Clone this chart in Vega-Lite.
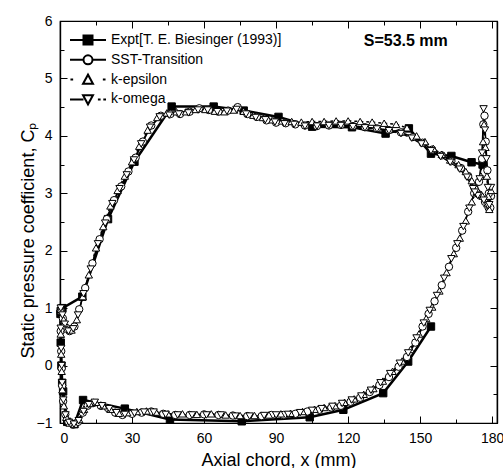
{
  "$schema": "https://vega.github.io/schema/vega-lite/v6.json",
  "width": 437,
  "height": 402,
  "autosize": {"type": "none"},
  "padding": {"left": 60, "top": 21, "right": 6, "bottom": 45},
  "background": "white",
  "config": {
    "font": "Liberation Sans",
    "view": {"stroke": "black", "strokeWidth": 1.2},
    "axis": {
      "grid": false,
      "domainColor": "black",
      "domainWidth": 1.2,
      "tickColor": "black",
      "tickWidth": 1,
      "labelColor": "black",
      "titleColor": "black",
      "labelFont": "Liberation Sans",
      "titleFont": "Liberation Sans",
      "labelFontSize": 14,
      "titleFontSize": 18,
      "titleFontWeight": "normal"
    }
  },
  "data": {"values": [
    {"s":"E","d":"P","x":0.3,"y":0.95},{"s":"E","d":"P","x":1,"y":1.0},{"s":"E","d":"P","x":9.3,"y":1.2},{"s":"E","d":"P","x":20,"y":2.55},{"s":"E","d":"P","x":31,"y":3.55},{"s":"E","d":"P","x":46.5,"y":4.51},{"s":"E","d":"P","x":64,"y":4.51},{"s":"E","d":"P","x":76.5,"y":4.44},{"s":"E","d":"P","x":91,"y":4.33},{"s":"E","d":"P","x":105,"y":4.16},{"s":"E","d":"P","x":121.6,"y":4.15},{"s":"E","d":"P","x":135.6,"y":4.04},{"s":"E","d":"P","x":145.3,"y":4.13},{"s":"E","d":"P","x":154.5,"y":3.69},{"s":"E","d":"P","x":163,"y":3.65},{"s":"E","d":"P","x":171.4,"y":3.54},{"s":"E","d":"P","x":176,"y":3.5},
    {"s":"E","d":"S","x":0.2,"y":0.9},{"s":"E","d":"S","x":0.3,"y":0.4},{"s":"E","d":"S","x":0.6,"y":0.0},{"s":"E","d":"S","x":0.9,"y":-0.3},{"s":"E","d":"S","x":1.3,"y":-0.45},{"s":"E","d":"S","x":3,"y":-0.98},{"s":"E","d":"S","x":6,"y":-1.02},{"s":"E","d":"S","x":9.6,"y":-0.6},{"s":"E","d":"S","x":27,"y":-0.75},{"s":"E","d":"S","x":45.8,"y":-0.94},{"s":"E","d":"S","x":75.7,"y":-0.97},{"s":"E","d":"S","x":104,"y":-0.9},{"s":"E","d":"S","x":118,"y":-0.77},{"s":"E","d":"S","x":134.6,"y":-0.48},{"s":"E","d":"S","x":145,"y":0.07},{"s":"E","d":"S","x":154.5,"y":0.68},

    {"s":"SST","d":"P","x":0.3,"y":0.95},{"s":"SST","d":"P","x":1.2,"y":0.82},{"s":"SST","d":"P","x":2.5,"y":0.66},{"s":"SST","d":"P","x":4,"y":0.6},{"s":"SST","d":"P","x":6,"y":0.68},{"s":"SST","d":"P","x":8,"y":0.98},{"s":"SST","d":"P","x":10.5,"y":1.35},{"s":"SST","d":"P","x":13.5,"y":1.78},{"s":"SST","d":"P","x":16.5,"y":2.2},{"s":"SST","d":"P","x":19.5,"y":2.55},{"s":"SST","d":"P","x":22.5,"y":2.88},{"s":"SST","d":"P","x":25.5,"y":3.12},{"s":"SST","d":"P","x":28.5,"y":3.38},{"s":"SST","d":"P","x":31.5,"y":3.62},{"s":"SST","d":"P","x":34.5,"y":3.9},{"s":"SST","d":"P","x":38,"y":4.18},{"s":"SST","d":"P","x":42,"y":4.35},{"s":"SST","d":"P","x":46,"y":4.38},{"s":"SST","d":"P","x":50,"y":4.38},{"s":"SST","d":"P","x":54,"y":4.42},{"s":"SST","d":"P","x":58,"y":4.48},{"s":"SST","d":"P","x":62,"y":4.45},{"s":"SST","d":"P","x":66,"y":4.42},{"s":"SST","d":"P","x":70,"y":4.44},{"s":"SST","d":"P","x":74,"y":4.5},{"s":"SST","d":"P","x":78,"y":4.38},{"s":"SST","d":"P","x":82,"y":4.33},{"s":"SST","d":"P","x":86,"y":4.27},{"s":"SST","d":"P","x":90,"y":4.23},{"s":"SST","d":"P","x":94,"y":4.22},{"s":"SST","d":"P","x":98,"y":4.2},{"s":"SST","d":"P","x":102,"y":4.18},{"s":"SST","d":"P","x":107,"y":4.17},{"s":"SST","d":"P","x":112,"y":4.18},{"s":"SST","d":"P","x":117,"y":4.19},{"s":"SST","d":"P","x":122,"y":4.17},{"s":"SST","d":"P","x":127,"y":4.15},{"s":"SST","d":"P","x":132,"y":4.13},{"s":"SST","d":"P","x":137,"y":4.1},{"s":"SST","d":"P","x":142,"y":4.06},{"s":"SST","d":"P","x":147,"y":3.98},{"s":"SST","d":"P","x":151,"y":3.88},{"s":"SST","d":"P","x":155,"y":3.76},{"s":"SST","d":"P","x":159,"y":3.66},{"s":"SST","d":"P","x":163,"y":3.56},{"s":"SST","d":"P","x":167,"y":3.44},{"s":"SST","d":"P","x":170,"y":3.3},{"s":"SST","d":"P","x":172.5,"y":3.1},{"s":"SST","d":"P","x":174.5,"y":2.98},{"s":"SST","d":"P","x":177,"y":2.85},{"s":"SST","d":"P","x":178.5,"y":2.75},{"s":"SST","d":"P","x":179.5,"y":2.95},
    {"s":"SST","d":"S","x":0.3,"y":0.6},{"s":"SST","d":"S","x":0.5,"y":0.25},{"s":"SST","d":"S","x":0.7,"y":-0.05},{"s":"SST","d":"S","x":0.9,"y":-0.35},{"s":"SST","d":"S","x":1.3,"y":-0.62},{"s":"SST","d":"S","x":2.2,"y":-0.85},{"s":"SST","d":"S","x":3.5,"y":-0.98},{"s":"SST","d":"S","x":5.5,"y":-1.03},{"s":"SST","d":"S","x":7.5,"y":-0.98},{"s":"SST","d":"S","x":9.5,"y":-0.82},{"s":"SST","d":"S","x":11.5,"y":-0.7},{"s":"SST","d":"S","x":14,"y":-0.65},{"s":"SST","d":"S","x":17,"y":-0.7},{"s":"SST","d":"S","x":20,"y":-0.74},{"s":"SST","d":"S","x":23,"y":-0.82},{"s":"SST","d":"S","x":26,"y":-0.86},{"s":"SST","d":"S","x":30,"y":-0.84},{"s":"SST","d":"S","x":34,"y":-0.82},{"s":"SST","d":"S","x":38,"y":-0.8},{"s":"SST","d":"S","x":43,"y":-0.84},{"s":"SST","d":"S","x":48,"y":-0.86},{"s":"SST","d":"S","x":54,"y":-0.86},{"s":"SST","d":"S","x":60,"y":-0.85},{"s":"SST","d":"S","x":66,"y":-0.86},{"s":"SST","d":"S","x":72,"y":-0.87},{"s":"SST","d":"S","x":78,"y":-0.88},{"s":"SST","d":"S","x":84,"y":-0.88},{"s":"SST","d":"S","x":88,"y":-0.86},{"s":"SST","d":"S","x":93,"y":-0.86},{"s":"SST","d":"S","x":98,"y":-0.84},{"s":"SST","d":"S","x":103,"y":-0.8},{"s":"SST","d":"S","x":108,"y":-0.77},{"s":"SST","d":"S","x":113,"y":-0.73},{"s":"SST","d":"S","x":117,"y":-0.7},{"s":"SST","d":"S","x":121,"y":-0.63},{"s":"SST","d":"S","x":125,"y":-0.56},{"s":"SST","d":"S","x":129,"y":-0.46},{"s":"SST","d":"S","x":133,"y":-0.34},{"s":"SST","d":"S","x":137,"y":-0.2},{"s":"SST","d":"S","x":141,"y":-0.02},{"s":"SST","d":"S","x":144.5,"y":0.15},{"s":"SST","d":"S","x":148,"y":0.4},{"s":"SST","d":"S","x":151,"y":0.68},{"s":"SST","d":"S","x":153.5,"y":0.9},{"s":"SST","d":"S","x":156,"y":1.12},{"s":"SST","d":"S","x":159,"y":1.4},{"s":"SST","d":"S","x":162,"y":1.72},{"s":"SST","d":"S","x":165,"y":2.05},{"s":"SST","d":"S","x":167.5,"y":2.35},{"s":"SST","d":"S","x":170,"y":2.68},{"s":"SST","d":"S","x":172.5,"y":3.0},{"s":"SST","d":"S","x":174.5,"y":3.2},{"s":"SST","d":"S","x":175.8,"y":3.6},{"s":"SST","d":"S","x":176.3,"y":4.2},{"s":"SST","d":"S","x":176.8,"y":4.35},{"s":"SST","d":"S","x":177.3,"y":3.9},{"s":"SST","d":"S","x":178,"y":3.4},{"s":"SST","d":"S","x":178.6,"y":3.0},{"s":"SST","d":"S","x":179.2,"y":2.75},

    {"s":"KE","d":"P","x":0.3,"y":0.98},{"s":"KE","d":"P","x":1.5,"y":0.8},{"s":"KE","d":"P","x":3,"y":0.64},{"s":"KE","d":"P","x":4.8,"y":0.62},{"s":"KE","d":"P","x":7,"y":0.8},{"s":"KE","d":"P","x":9.5,"y":1.2},{"s":"KE","d":"P","x":12,"y":1.58},{"s":"KE","d":"P","x":15,"y":2.05},{"s":"KE","d":"P","x":18,"y":2.42},{"s":"KE","d":"P","x":21,"y":2.78},{"s":"KE","d":"P","x":24,"y":3.05},{"s":"KE","d":"P","x":27,"y":3.3},{"s":"KE","d":"P","x":30,"y":3.55},{"s":"KE","d":"P","x":33,"y":3.82},{"s":"KE","d":"P","x":36.5,"y":4.1},{"s":"KE","d":"P","x":40.5,"y":4.32},{"s":"KE","d":"P","x":44.5,"y":4.4},{"s":"KE","d":"P","x":48.5,"y":4.42},{"s":"KE","d":"P","x":52.5,"y":4.42},{"s":"KE","d":"P","x":56.5,"y":4.46},{"s":"KE","d":"P","x":60.5,"y":4.46},{"s":"KE","d":"P","x":64.5,"y":4.43},{"s":"KE","d":"P","x":68.5,"y":4.42},{"s":"KE","d":"P","x":72.5,"y":4.45},{"s":"KE","d":"P","x":76.5,"y":4.43},{"s":"KE","d":"P","x":80.5,"y":4.36},{"s":"KE","d":"P","x":84.5,"y":4.32},{"s":"KE","d":"P","x":88.5,"y":4.28},{"s":"KE","d":"P","x":92.5,"y":4.26},{"s":"KE","d":"P","x":96.5,"y":4.25},{"s":"KE","d":"P","x":100.5,"y":4.24},{"s":"KE","d":"P","x":105,"y":4.25},{"s":"KE","d":"P","x":110,"y":4.25},{"s":"KE","d":"P","x":115,"y":4.26},{"s":"KE","d":"P","x":120,"y":4.26},{"s":"KE","d":"P","x":125,"y":4.25},{"s":"KE","d":"P","x":130,"y":4.24},{"s":"KE","d":"P","x":135,"y":4.22},{"s":"KE","d":"P","x":140,"y":4.2},{"s":"KE","d":"P","x":144.5,"y":4.14},{"s":"KE","d":"P","x":148.5,"y":4.0},{"s":"KE","d":"P","x":152,"y":3.9},{"s":"KE","d":"P","x":155.5,"y":3.78},{"s":"KE","d":"P","x":159,"y":3.68},{"s":"KE","d":"P","x":162.5,"y":3.58},{"s":"KE","d":"P","x":166,"y":3.5},{"s":"KE","d":"P","x":169,"y":3.38},{"s":"KE","d":"P","x":171.5,"y":3.22},{"s":"KE","d":"P","x":173.5,"y":3.02},{"s":"KE","d":"P","x":176,"y":2.95},{"s":"KE","d":"P","x":178,"y":2.82},{"s":"KE","d":"P","x":179.5,"y":3.05},
    {"s":"KE","d":"S","x":0.3,"y":0.55},{"s":"KE","d":"S","x":0.5,"y":0.2},{"s":"KE","d":"S","x":0.7,"y":-0.1},{"s":"KE","d":"S","x":1.0,"y":-0.42},{"s":"KE","d":"S","x":1.6,"y":-0.7},{"s":"KE","d":"S","x":2.6,"y":-0.9},{"s":"KE","d":"S","x":4,"y":-1.0},{"s":"KE","d":"S","x":6,"y":-1.02},{"s":"KE","d":"S","x":8,"y":-0.94},{"s":"KE","d":"S","x":10,"y":-0.76},{"s":"KE","d":"S","x":12.5,"y":-0.66},{"s":"KE","d":"S","x":15,"y":-0.64},{"s":"KE","d":"S","x":18,"y":-0.7},{"s":"KE","d":"S","x":21,"y":-0.76},{"s":"KE","d":"S","x":24.5,"y":-0.83},{"s":"KE","d":"S","x":28,"y":-0.82},{"s":"KE","d":"S","x":32,"y":-0.8},{"s":"KE","d":"S","x":36,"y":-0.79},{"s":"KE","d":"S","x":40,"y":-0.81},{"s":"KE","d":"S","x":45,"y":-0.84},{"s":"KE","d":"S","x":51,"y":-0.84},{"s":"KE","d":"S","x":57,"y":-0.85},{"s":"KE","d":"S","x":63,"y":-0.84},{"s":"KE","d":"S","x":69,"y":-0.86},{"s":"KE","d":"S","x":75,"y":-0.87},{"s":"KE","d":"S","x":81,"y":-0.87},{"s":"KE","d":"S","x":87,"y":-0.86},{"s":"KE","d":"S","x":92,"y":-0.84},{"s":"KE","d":"S","x":96,"y":-0.83},{"s":"KE","d":"S","x":101,"y":-0.8},{"s":"KE","d":"S","x":106,"y":-0.76},{"s":"KE","d":"S","x":110,"y":-0.73},{"s":"KE","d":"S","x":114.5,"y":-0.7},{"s":"KE","d":"S","x":118.5,"y":-0.64},{"s":"KE","d":"S","x":122.5,"y":-0.58},{"s":"KE","d":"S","x":126.5,"y":-0.5},{"s":"KE","d":"S","x":130.5,"y":-0.4},{"s":"KE","d":"S","x":134.5,"y":-0.27},{"s":"KE","d":"S","x":138.5,"y":-0.1},{"s":"KE","d":"S","x":142.5,"y":0.08},{"s":"KE","d":"S","x":146,"y":0.28},{"s":"KE","d":"S","x":149.5,"y":0.55},{"s":"KE","d":"S","x":152.5,"y":0.82},{"s":"KE","d":"S","x":155,"y":1.02},{"s":"KE","d":"S","x":158,"y":1.3},{"s":"KE","d":"S","x":161,"y":1.62},{"s":"KE","d":"S","x":164,"y":1.95},{"s":"KE","d":"S","x":166.5,"y":2.22},{"s":"KE","d":"S","x":169,"y":2.52},{"s":"KE","d":"S","x":171.5,"y":2.85},{"s":"KE","d":"S","x":173.5,"y":3.08},{"s":"KE","d":"S","x":175.3,"y":3.3},{"s":"KE","d":"S","x":176.2,"y":3.9},{"s":"KE","d":"S","x":176.6,"y":4.2},{"s":"KE","d":"S","x":177.2,"y":3.8},{"s":"KE","d":"S","x":177.8,"y":3.3},{"s":"KE","d":"S","x":178.3,"y":2.95},{"s":"KE","d":"S","x":178.8,"y":2.72},

    {"s":"KW","d":"P","x":0.3,"y":1.0},{"s":"KW","d":"P","x":1,"y":0.88},{"s":"KW","d":"P","x":2,"y":0.72},{"s":"KW","d":"P","x":3.5,"y":0.6},{"s":"KW","d":"P","x":5.5,"y":0.64},{"s":"KW","d":"P","x":7.5,"y":0.88},{"s":"KW","d":"P","x":9.8,"y":1.25},{"s":"KW","d":"P","x":12.8,"y":1.68},{"s":"KW","d":"P","x":15.8,"y":2.12},{"s":"KW","d":"P","x":18.8,"y":2.48},{"s":"KW","d":"P","x":21.8,"y":2.82},{"s":"KW","d":"P","x":24.8,"y":3.08},{"s":"KW","d":"P","x":27.8,"y":3.32},{"s":"KW","d":"P","x":30.8,"y":3.58},{"s":"KW","d":"P","x":33.8,"y":3.86},{"s":"KW","d":"P","x":37.5,"y":4.15},{"s":"KW","d":"P","x":41.5,"y":4.33},{"s":"KW","d":"P","x":45.5,"y":4.36},{"s":"KW","d":"P","x":49.5,"y":4.38},{"s":"KW","d":"P","x":53.5,"y":4.4},{"s":"KW","d":"P","x":57.5,"y":4.45},{"s":"KW","d":"P","x":61.5,"y":4.45},{"s":"KW","d":"P","x":65.5,"y":4.42},{"s":"KW","d":"P","x":69.5,"y":4.43},{"s":"KW","d":"P","x":73.5,"y":4.46},{"s":"KW","d":"P","x":77.5,"y":4.38},{"s":"KW","d":"P","x":81.5,"y":4.32},{"s":"KW","d":"P","x":85.5,"y":4.28},{"s":"KW","d":"P","x":89.5,"y":4.24},{"s":"KW","d":"P","x":93.5,"y":4.21},{"s":"KW","d":"P","x":97.5,"y":4.2},{"s":"KW","d":"P","x":102,"y":4.17},{"s":"KW","d":"P","x":107,"y":4.17},{"s":"KW","d":"P","x":112,"y":4.18},{"s":"KW","d":"P","x":117,"y":4.18},{"s":"KW","d":"P","x":122,"y":4.16},{"s":"KW","d":"P","x":127,"y":4.14},{"s":"KW","d":"P","x":132,"y":4.12},{"s":"KW","d":"P","x":137,"y":4.09},{"s":"KW","d":"P","x":142,"y":4.04},{"s":"KW","d":"P","x":146.5,"y":3.96},{"s":"KW","d":"P","x":150.5,"y":3.86},{"s":"KW","d":"P","x":154.5,"y":3.74},{"s":"KW","d":"P","x":158.5,"y":3.64},{"s":"KW","d":"P","x":162.5,"y":3.54},{"s":"KW","d":"P","x":166.5,"y":3.42},{"s":"KW","d":"P","x":169.5,"y":3.28},{"s":"KW","d":"P","x":172,"y":3.08},{"s":"KW","d":"P","x":174,"y":2.96},{"s":"KW","d":"P","x":176.5,"y":2.88},{"s":"KW","d":"P","x":178.3,"y":2.78},{"s":"KW","d":"P","x":179.5,"y":3.1},
    {"s":"KW","d":"S","x":0.3,"y":0.65},{"s":"KW","d":"S","x":0.5,"y":0.3},{"s":"KW","d":"S","x":0.7,"y":0.0},{"s":"KW","d":"S","x":0.9,"y":-0.3},{"s":"KW","d":"S","x":1.4,"y":-0.6},{"s":"KW","d":"S","x":2.3,"y":-0.86},{"s":"KW","d":"S","x":3.8,"y":-0.99},{"s":"KW","d":"S","x":5.8,"y":-1.02},{"s":"KW","d":"S","x":7.8,"y":-0.96},{"s":"KW","d":"S","x":9.8,"y":-0.8},{"s":"KW","d":"S","x":12,"y":-0.68},{"s":"KW","d":"S","x":14.5,"y":-0.64},{"s":"KW","d":"S","x":17.5,"y":-0.7},{"s":"KW","d":"S","x":20.5,"y":-0.75},{"s":"KW","d":"S","x":23.5,"y":-0.82},{"s":"KW","d":"S","x":27,"y":-0.85},{"s":"KW","d":"S","x":31,"y":-0.83},{"s":"KW","d":"S","x":35,"y":-0.81},{"s":"KW","d":"S","x":39,"y":-0.81},{"s":"KW","d":"S","x":44,"y":-0.85},{"s":"KW","d":"S","x":49,"y":-0.86},{"s":"KW","d":"S","x":55,"y":-0.86},{"s":"KW","d":"S","x":61,"y":-0.86},{"s":"KW","d":"S","x":67,"y":-0.86},{"s":"KW","d":"S","x":73,"y":-0.88},{"s":"KW","d":"S","x":79,"y":-0.88},{"s":"KW","d":"S","x":85,"y":-0.87},{"s":"KW","d":"S","x":90,"y":-0.86},{"s":"KW","d":"S","x":95,"y":-0.85},{"s":"KW","d":"S","x":100,"y":-0.82},{"s":"KW","d":"S","x":105,"y":-0.78},{"s":"KW","d":"S","x":109,"y":-0.75},{"s":"KW","d":"S","x":113.5,"y":-0.71},{"s":"KW","d":"S","x":117.5,"y":-0.66},{"s":"KW","d":"S","x":121.5,"y":-0.6},{"s":"KW","d":"S","x":125.5,"y":-0.53},{"s":"KW","d":"S","x":129.5,"y":-0.43},{"s":"KW","d":"S","x":133.5,"y":-0.3},{"s":"KW","d":"S","x":137.5,"y":-0.14},{"s":"KW","d":"S","x":141.5,"y":0.04},{"s":"KW","d":"S","x":145,"y":0.22},{"s":"KW","d":"S","x":148.5,"y":0.48},{"s":"KW","d":"S","x":151.5,"y":0.74},{"s":"KW","d":"S","x":154,"y":0.96},{"s":"KW","d":"S","x":157,"y":1.22},{"s":"KW","d":"S","x":160,"y":1.52},{"s":"KW","d":"S","x":163,"y":1.86},{"s":"KW","d":"S","x":165.5,"y":2.12},{"s":"KW","d":"S","x":168,"y":2.42},{"s":"KW","d":"S","x":170.5,"y":2.74},{"s":"KW","d":"S","x":172.8,"y":3.02},{"s":"KW","d":"S","x":174.8,"y":3.25},{"s":"KW","d":"S","x":175.8,"y":3.7},{"s":"KW","d":"S","x":176.4,"y":4.47},{"s":"KW","d":"S","x":177,"y":4.1},{"s":"KW","d":"S","x":177.6,"y":3.6},{"s":"KW","d":"S","x":178.2,"y":3.1},{"s":"KW","d":"S","x":178.8,"y":2.8}
  ]},
  "resolve": {"axis": {"x": "independent", "y": "independent"}},
  "layer": [
    {
      "transform": [{"filter": "datum.s !== 'E'"}],
      "mark": {"type": "line", "color": "black", "strokeWidth": 1.5},
      "encoding": {
        "x": {"field": "x", "type": "quantitative", "scale": {"domain": [0, 182], "nice": false, "zero": false},
              "axis": {"orient": "bottom", "values": [0, 30, 60, 90, 120, 150, 180], "tickSize": -7, "labelPadding": 15,
                       "title": "Axial chord, x (mm)", "titleY": 42, "titleBaseline": "alphabetic"}},
        "y": {"field": "y", "type": "quantitative", "scale": {"domain": [-1, 6], "nice": false, "zero": false},
              "axis": {"orient": "left", "values": [-1, 0, 1, 2, 3, 4, 5, 6], "tickSize": -7, "labelPadding": 15,
                       "title": "Static pressure coefficient, Cₚ", "titleX": -27, "titleY": 219, "titleBaseline": "alphabetic"}},
        "strokeDash": {"field": "s", "type": "nominal", "scale": {"domain": ["SST", "KE", "KW"], "range": [[1, 0], [3, 3], [9, 3]]}, "legend": null},
        "detail": {"field": "d"}
      }
    },
    {
      "transform": [{"filter": "datum.s === 'E'"}],
      "mark": {"type": "line", "color": "black", "strokeWidth": 2.5},
      "encoding": {
        "x": {"field": "x", "type": "quantitative",
              "axis": {"orient": "top", "values": [0, 30, 60, 90, 120, 150, 180], "tickSize": -7, "labels": false, "title": null}},
        "y": {"field": "y", "type": "quantitative",
              "axis": {"orient": "right", "values": [-1, 0, 1, 2, 3, 4, 5, 6], "tickSize": -7, "labels": false, "title": null}},
        "detail": {"field": "d"}
      }
    },
    {
      "mark": {"type": "point", "filled": true, "stroke": "black", "strokeWidth": 1, "size": 55, "opacity": 1},
      "encoding": {
        "x": {"field": "x", "type": "quantitative",
              "axis": {"orient": "bottom", "values": [15, 45, 75, 105, 135, 165], "tickSize": -4, "labels": false, "title": null}},
        "y": {"field": "y", "type": "quantitative",
              "axis": {"orient": "left", "values": [-0.5, 0.5, 1.5, 2.5, 3.5, 4.5, 5.5], "tickSize": -4, "labels": false, "title": null}},
        "shape": {"field": "s", "type": "nominal",
                  "scale": {"domain": ["SST", "E", "KE", "KW"], "range": ["circle", "square", "triangle-up", "triangle-down"]},
                  "legend": null},
        "fill": {"field": "s", "type": "nominal",
                 "scale": {"domain": ["E", "SST", "KE", "KW"], "range": ["black", "white", "white", "white"]},
                 "legend": {
                    "title": null, "orient": "none", "legendX": 21, "legendY": 12, "padding": 0,
                    "symbolSize": 81, "symbolStrokeWidth": 2, "rowPadding": 1.8, "labelOffset": 16,
                    "labelFont": "Liberation Sans", "labelFontSize": 14, "labelColor": "black", "labelLimit": 300,
                    "labelExpr": "datum.value === 'E' ? 'Expt[T. E. Biesinger (1993)]' : datum.value === 'SST' ? 'SST-Transition' : datum.value === 'KE' ? 'k-epsilon' : 'k-omega'",
                    "encoding": {"symbols": {
                      "shape": {"value": {"expr": "datum.value === 'E' ? 'M-4,0H4M-1,-1H1V1H-1Z' : datum.value === 'SST' ? 'M-4,0H-1M1,0H4M1,0A1,1 0 1,1 -1,0A1,1 0 1,1 1,0Z' : datum.value === 'KE' ? 'M-3.9,0H-3.3M3.3,0H3.9M-1.1,0.9L0,-1.1L1.1,0.9Z' : 'M-4,0H-1M2.2,0H2.8M3.4,0H4M-1.1,-0.9L0,1.1L1.1,-0.9Z'"}},
                      "stroke": {"value": "black"},
                      "opacity": {"value": 1}
                    }}
                 }}
      }
    },
    {
      "data": {"values": [{"label": "S=53.5 mm"}]},
      "mark": {"type": "text", "font": "Liberation Sans", "fontSize": 16, "fontWeight": "bold", "color": "black", "align": "center", "baseline": "middle"},
      "encoding": {
        "text": {"field": "label"},
        "x": {"datum": 144, "type": "quantitative",
              "axis": {"orient": "top", "values": [15, 45, 75, 105, 135, 165], "tickSize": -4, "labels": false, "title": null}},
        "y": {"datum": 5.66, "type": "quantitative",
              "axis": {"orient": "right", "values": [-0.5, 0.5, 1.5, 2.5, 3.5, 4.5, 5.5], "tickSize": -4, "labels": false, "title": null}}
      }
    }
  ]
}
